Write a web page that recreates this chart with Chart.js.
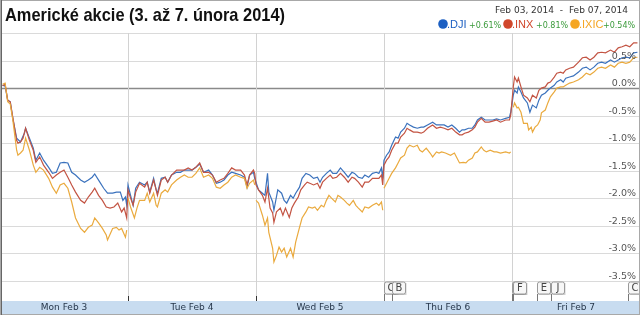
<!DOCTYPE html>
<html>
<head>
<meta charset="utf-8">
<script src="https://cdn.jsdelivr.net/npm/chart.js@4"></script>
<style>
  html, body { margin: 0; padding: 0; background: #fff; }
  canvas { display: block; }
</style>
</head>
<body>
<canvas id="chart" width="640" height="315"></canvas>
<script>
// x = trading day position (0 = Mon open, 5 = Fri close), y = change in %
const dayLabels = ['Mon Feb 3', 'Tue Feb 4', 'Wed Feb 5', 'Thu Feb 6', 'Fri Feb 7'];
const yTicks = [1.0, 0.5, 0, -0.5, -1.0, -1.5, -2.0, -2.5, -3.0, -3.5];
const seriesNames = ['.DJI', '.INX', '.IXIC'];
const seriesChange = ['+0.61%', '+0.81%', '+0.54%'];
const events = [[3.0, 'C'], [3.06, 'B'], [4.0, 'F'], [4.01, 'F'], [4.195, 'E'], [4.305, 'J'], [4.905, 'C']];

const djiData = [
  [.02,0.05],[.04,0.04],[.06,-0.22],[.08,-0.25],[.10,-0.55],[.13,-0.91],[.16,-0.98],[.19,-0.82],[.20,-0.73],
  [.23,-0.91],[.26,-1.09],[.28,-1.31],[.31,-1.18],[.34,-1.31],[.38,-1.44],[.41,-1.55],[.44,-1.53],[.47,-1.36],
  [.50,-1.35],[.53,-1.36],[.56,-1.53],[.59,-1.58],[.63,-1.67],[.66,-1.71],[.69,-1.67],[.72,-1.62],[.74,-1.56],
  [.78,-1.71],[.81,-1.82],[.84,-1.91],[.88,-1.91],[.91,-1.89],[.94,-1.89],[.96,-2.04],[.98,-1.98],[.99,-2.13],
  [1.00,-1.76],[1.02,-1.95],[1.04,-2.13],[1.06,-1.82],[1.09,-1.71],[1.13,-1.76],[1.15,-1.71],[1.17,-1.89],
  [1.20,-1.64],[1.22,-1.85],[1.23,-1.91],[1.26,-1.64],[1.29,-1.62],[1.31,-1.71],[1.34,-1.58],[1.38,-1.53],
  [1.41,-1.53],[1.44,-1.49],[1.47,-1.49],[1.50,-1.49],[1.53,-1.44],[1.56,-1.38],[1.59,-1.53],[1.63,-1.49],
  [1.66,-1.58],[1.69,-1.73],[1.72,-1.71],[1.75,-1.67],[1.78,-1.58],[1.81,-1.53],[1.84,-1.55],[1.88,-1.58],
  [1.91,-1.62],[1.93,-1.80],[1.95,-1.58],[1.98,-1.53],[1.99,-1.64],
  [2.00,-1.71],[2.02,-1.85],[2.05,-1.91],[2.07,-1.95],[2.09,-1.55],[2.10,-1.89],[2.13,-2.07],[2.14,-2.22],
  [2.17,-1.85],[2.20,-1.91],[2.22,-2.04],[2.24,-2.09],[2.27,-1.95],[2.29,-2.00],[2.31,-1.91],[2.34,-1.80],
  [2.36,-1.64],[2.39,-1.55],[2.42,-1.58],[2.45,-1.64],[2.48,-1.62],[2.50,-1.71],[2.52,-1.62],[2.55,-1.55],
  [2.58,-1.49],[2.60,-1.55],[2.63,-1.55],[2.66,-1.45],[2.69,-1.53],[2.72,-1.62],[2.75,-1.53],[2.77,-1.55],
  [2.80,-1.62],[2.83,-1.64],[2.85,-1.58],[2.88,-1.62],[2.91,-1.55],[2.94,-1.53],[2.96,-1.55],[2.98,-1.45],
  [2.99,-1.64],
  [3.00,-1.31],[3.02,-1.22],[3.04,-1.16],[3.06,-1.04],[3.09,-0.89],[3.11,-0.91],[3.13,-0.80],[3.16,-0.73],
  [3.18,-0.64],[3.20,-0.67],[3.23,-0.71],[3.26,-0.73],[3.29,-0.71],[3.31,-0.71],[3.34,-0.67],[3.38,-0.62],
  [3.41,-0.67],[3.44,-0.67],[3.47,-0.67],[3.50,-0.71],[3.53,-0.67],[3.56,-0.73],[3.59,-0.80],[3.61,-0.76],
  [3.63,-0.76],[3.66,-0.73],[3.69,-0.73],[3.71,-0.67],[3.73,-0.58],[3.76,-0.53],[3.79,-0.58],[3.82,-0.58],
  [3.85,-0.58],[3.88,-0.56],[3.91,-0.58],[3.95,-0.55],[3.98,-0.53],[3.99,-0.44],
  [4.01,-0.13],[4.02,-0.04],[4.04,-0.09],[4.05,0.02],[4.07,-0.07],[4.09,-0.18],[4.12,-0.27],[4.14,-0.44],
  [4.16,-0.31],[4.19,-0.36],[4.21,-0.22],[4.23,-0.13],[4.26,-0.09],[4.28,-0.04],[4.30,0.00],[4.33,0.05],
  [4.35,0.11],[4.38,0.15],[4.40,0.11],[4.42,0.18],[4.45,0.20],[4.48,0.22],[4.52,0.29],[4.55,0.36],
  [4.58,0.38],[4.61,0.33],[4.64,0.38],[4.67,0.45],[4.70,0.47],[4.73,0.45],[4.77,0.51],[4.80,0.47],
  [4.83,0.51],[4.86,0.55],[4.89,0.56],[4.92,0.55],[4.95,0.64],[4.98,0.65]
];

const inxData = [
  [.02,0.04],[.04,0.07],[.06,-0.22],[.08,-0.25],[.10,-0.53],[.13,-0.95],[.14,-1.00],[.16,-0.98],[.18,-0.91],
  [.20,-0.73],[.23,-0.95],[.26,-1.13],[.28,-1.35],[.31,-1.25],[.34,-1.40],[.38,-1.53],[.41,-1.64],[.44,-1.58],
  [.47,-1.53],[.50,-1.49],[.53,-1.62],[.56,-1.76],[.59,-1.89],[.63,-2.04],[.66,-2.09],[.69,-1.98],[.72,-1.89],
  [.74,-1.82],[.77,-1.95],[.80,-2.04],[.83,-2.16],[.86,-2.18],[.89,-2.16],[.92,-2.09],[.95,-2.25],[.97,-2.18],
  [.99,-2.36],
  [1.00,-1.85],[1.02,-2.00],[1.04,-2.13],[1.06,-1.89],[1.09,-1.73],[1.13,-1.80],[1.15,-1.71],[1.17,-1.91],
  [1.20,-1.67],[1.22,-1.85],[1.23,-1.95],[1.26,-1.67],[1.29,-1.62],[1.31,-1.71],[1.34,-1.58],[1.38,-1.49],
  [1.41,-1.49],[1.44,-1.49],[1.47,-1.45],[1.50,-1.49],[1.53,-1.44],[1.56,-1.36],[1.59,-1.53],[1.63,-1.53],
  [1.66,-1.58],[1.69,-1.71],[1.72,-1.67],[1.75,-1.64],[1.78,-1.55],[1.81,-1.45],[1.84,-1.49],[1.88,-1.49],
  [1.91,-1.58],[1.93,-1.76],[1.95,-1.58],[1.98,-1.49],[1.99,-1.55],
  [2.00,-1.76],[2.02,-1.85],[2.05,-1.95],[2.07,-2.07],[2.09,-1.82],[2.11,-2.18],[2.13,-2.27],[2.14,-2.44],
  [2.16,-2.25],[2.19,-2.18],[2.21,-2.31],[2.23,-2.18],[2.26,-2.35],[2.28,-2.18],[2.30,-2.09],[2.33,-1.98],
  [2.35,-1.85],[2.38,-1.76],[2.40,-1.71],[2.42,-1.73],[2.45,-1.76],[2.48,-1.73],[2.50,-1.82],[2.52,-1.71],
  [2.55,-1.64],[2.58,-1.58],[2.60,-1.64],[2.63,-1.62],[2.66,-1.55],[2.69,-1.62],[2.72,-1.71],[2.75,-1.62],
  [2.77,-1.64],[2.80,-1.71],[2.83,-1.80],[2.85,-1.71],[2.88,-1.71],[2.91,-1.64],[2.94,-1.64],[2.96,-1.64],
  [2.98,-1.58],[2.99,-1.76],
  [3.00,-1.40],[3.02,-1.31],[3.04,-1.25],[3.06,-1.13],[3.09,-1.00],[3.11,-1.00],[3.13,-0.89],[3.16,-0.82],
  [3.18,-0.73],[3.20,-0.76],[3.23,-0.80],[3.26,-0.80],[3.29,-0.82],[3.31,-0.80],[3.34,-0.73],[3.38,-0.67],
  [3.41,-0.73],[3.44,-0.71],[3.47,-0.73],[3.50,-0.76],[3.53,-0.73],[3.56,-0.80],[3.59,-0.85],[3.61,-0.85],
  [3.63,-0.82],[3.66,-0.80],[3.69,-0.76],[3.71,-0.71],[3.73,-0.62],[3.76,-0.55],[3.79,-0.62],[3.82,-0.62],
  [3.85,-0.60],[3.88,-0.58],[3.91,-0.62],[3.95,-0.58],[3.98,-0.58],[3.99,-0.49],
  [4.01,0.02],[4.02,0.20],[4.04,0.11],[4.05,0.18],[4.07,0.02],[4.09,-0.13],[4.12,-0.18],[4.14,-0.25],
  [4.16,-0.13],[4.19,-0.18],[4.21,-0.04],[4.23,0.00],[4.26,0.02],[4.28,0.09],[4.30,0.11],[4.33,0.20],
  [4.35,0.27],[4.38,0.29],[4.40,0.27],[4.42,0.33],[4.45,0.36],[4.48,0.38],[4.52,0.47],[4.55,0.55],
  [4.58,0.56],[4.61,0.51],[4.64,0.56],[4.67,0.64],[4.70,0.65],[4.73,0.64],[4.77,0.69],[4.80,0.65],
  [4.83,0.73],[4.86,0.75],[4.89,0.78],[4.92,0.75],[4.95,0.82],[4.98,0.82]
];

// Nasdaq line breaks between sessions
const ixicData = [
  [.02,0.07],[.04,0.09],[.06,-0.25],[.08,-0.29],[.10,-0.58],[.13,-1.13],[.14,-1.22],[.16,-1.18],[.18,-1.13],
  [.20,-0.91],[.23,-1.13],[.26,-1.40],[.28,-1.53],[.31,-1.44],[.34,-1.49],[.38,-1.64],[.41,-1.80],[.44,-1.91],
  [.47,-1.76],[.50,-1.73],[.53,-1.82],[.56,-2.07],[.59,-2.36],[.63,-2.55],[.66,-2.62],[.69,-2.53],[.72,-2.49],
  [.74,-2.36],[.77,-2.45],[.80,-2.55],[.83,-2.67],[.84,-2.76],[.88,-2.55],[.91,-2.53],[.93,-2.58],[.95,-2.55],
  [.98,-2.71],[.99,-2.58],[.995,null],
  [1.00,-2.00],[1.02,-2.16],[1.05,-2.36],[1.07,-2.18],[1.09,-2.04],[1.13,-2.04],[1.15,-1.91],[1.17,-2.07],
  [1.20,-1.91],[1.22,-2.13],[1.23,-2.16],[1.26,-1.91],[1.29,-1.85],[1.31,-1.89],[1.34,-1.76],[1.38,-1.67],
  [1.41,-1.62],[1.44,-1.58],[1.47,-1.62],[1.50,-1.62],[1.53,-1.55],[1.56,-1.45],[1.59,-1.62],[1.63,-1.58],
  [1.66,-1.64],[1.69,-1.80],[1.72,-1.82],[1.75,-1.76],[1.78,-1.71],[1.81,-1.62],[1.84,-1.58],[1.88,-1.62],
  [1.91,-1.64],[1.93,-1.82],[1.95,-1.73],[1.98,-1.67],[1.99,-1.76],[1.995,null],
  [2.00,-2.04],[2.02,-2.09],[2.05,-2.31],[2.07,-2.49],[2.09,-2.36],[2.10,-2.62],[2.13,-2.91],[2.14,-3.16],
  [2.16,-3.04],[2.18,-2.89],[2.20,-2.98],[2.22,-2.91],[2.24,-3.07],[2.27,-2.91],[2.29,-3.07],[2.31,-2.80],
  [2.34,-2.53],[2.36,-2.36],[2.39,-2.25],[2.41,-2.16],[2.44,-2.18],[2.46,-2.16],[2.48,-2.22],[2.51,-2.13],
  [2.53,-2.16],[2.55,-2.04],[2.57,-1.95],[2.59,-2.00],[2.62,-2.07],[2.64,-1.95],[2.66,-1.98],[2.69,-2.04],
  [2.71,-2.09],[2.73,-2.13],[2.76,-2.04],[2.78,-2.13],[2.80,-2.18],[2.83,-2.25],[2.85,-2.16],[2.88,-2.18],
  [2.91,-2.13],[2.94,-2.09],[2.96,-2.13],[2.98,-2.07],[2.99,-2.22],[2.995,null],
  [3.00,-1.82],[3.02,-1.73],[3.04,-1.64],[3.06,-1.55],[3.09,-1.45],[3.11,-1.36],[3.13,-1.27],[3.16,-1.22],
  [3.18,-1.09],[3.20,-1.04],[3.23,-1.07],[3.26,-1.04],[3.28,-1.13],[3.30,-1.16],[3.33,-1.09],[3.36,-1.18],
  [3.38,-1.25],[3.41,-1.16],[3.43,-1.18],[3.45,-1.16],[3.48,-1.18],[3.52,-1.22],[3.55,-1.18],[3.57,-1.27],
  [3.59,-1.36],[3.62,-1.35],[3.64,-1.36],[3.66,-1.31],[3.69,-1.27],[3.71,-1.18],[3.73,-1.16],[3.76,-1.07],
  [3.78,-1.13],[3.80,-1.16],[3.83,-1.13],[3.86,-1.16],[3.88,-1.16],[3.91,-1.18],[3.95,-1.16],[3.98,-1.18],
  [3.99,-1.16],[3.995,null],
  [4.01,-0.35],[4.02,-0.27],[4.04,-0.36],[4.05,-0.35],[4.07,-0.44],[4.09,-0.64],[4.12,-0.64],[4.13,-0.76],
  [4.15,-0.71],[4.16,-0.80],[4.18,-0.71],[4.20,-0.67],[4.22,-0.58],[4.23,-0.45],[4.26,-0.40],[4.28,-0.27],
  [4.30,-0.16],[4.33,-0.07],[4.35,0.00],[4.38,0.02],[4.40,0.02],[4.42,0.05],[4.45,0.09],[4.48,0.11],
  [4.52,0.15],[4.55,0.20],[4.58,0.27],[4.61,0.24],[4.64,0.29],[4.67,0.36],[4.70,0.38],[4.73,0.36],
  [4.77,0.42],[4.80,0.38],[4.83,0.45],[4.86,0.47],[4.89,0.45],[4.92,0.47],[4.95,0.55],[4.98,0.56]
];

const lineColors = ['#3b72bd', '#c35443', '#eaaa3e'];
const dotColors = ['#1c5fc2', '#d0472b', '#f5a623'];

function toPoints(rows) {
    return rows.map(r => ({ x: r[0], y: r[1] }));
}

// grid, axis band, labels, flags, title and legend
const decorations = {
    id: 'decorations',
    beforeDatasetsDraw(chart) {
        const { ctx, chartArea: a, scales: { x, y } } = chart;
        ctx.save();
        yTicks.forEach(v => {
            const py = Math.round(y.getPixelForValue(v)) + 0.5;
            ctx.beginPath();
            ctx.strokeStyle = v === 0 ? '#8a8a8a' : '#dadada';
            ctx.lineWidth = v === 0 ? 1.5 : 1;
            ctx.moveTo(a.left, py);
            ctx.lineTo(a.right, py);
            ctx.stroke();
        });
        for (let d = 1; d < dayLabels.length; d++) {
            const px = Math.round(x.getPixelForValue(d)) + 0.5;
            ctx.beginPath();
            ctx.strokeStyle = '#d2d2d2';
            ctx.lineWidth = 1;
            ctx.moveTo(px, a.top);
            ctx.lineTo(px, a.bottom);
            ctx.stroke();
        }
        ctx.restore();
    },
    afterDatasetsDraw(chart) {
        const { ctx, chartArea: a, scales: { x, y } } = chart;
        const W = chart.width, H = chart.height;
        ctx.save();

        // y labels, right side, sitting on the gridlines
        ctx.font = '9.5px "DejaVu Sans"';
        ctx.fillStyle = '#555';
        ctx.textAlign = 'right';
        ctx.textBaseline = 'alphabetic';
        yTicks.forEach(v => {
            if (v >= 1) return;
            const py = y.getPixelForValue(v);
            ctx.fillText(v.toFixed(1) + '%', a.right - 4, py - 2);
        });

        // x axis band
        ctx.fillStyle = '#c8dcf0';
        ctx.fillRect(0, a.bottom + 1, W, H - a.bottom - 2);
        ctx.fillStyle = '#26364a';
        ctx.font = '9px "DejaVu Sans"';
        ctx.textAlign = 'center';
        ctx.textBaseline = 'middle';
        dayLabels.forEach((lab, i) => {
            ctx.fillText(lab, x.getPixelForValue(i + 0.5), a.bottom + 8);
        });
        ctx.strokeStyle = '#333';
        ctx.lineWidth = 1;
        for (let d = 1; d < dayLabels.length; d++) {
            const px = Math.round(x.getPixelForValue(d)) + 0.5;
            ctx.beginPath();
            ctx.moveTo(px, a.bottom - 4);
            ctx.lineTo(px, a.bottom + 1);
            ctx.stroke();
        }

        // news flags
        ctx.font = '10px "DejaVu Sans"';
        events.forEach(([t, letter]) => {
            const px = Math.round(x.getPixelForValue(t)) + 0.5;
            const top = a.bottom - 18, h = 12, w = 13;
            ctx.strokeStyle = '#777';
            ctx.beginPath();
            ctx.moveTo(px, top + h);
            ctx.lineTo(px, a.bottom + 1);
            ctx.stroke();
            ctx.fillStyle = 'rgba(0,0,0,0.18)';
            ctx.fillRect(px + 1, top + 1, w, h);
            ctx.fillStyle = '#f7f7f7';
            ctx.strokeStyle = '#9a9a9a';
            ctx.beginPath();
            ctx.roundRect(px, top, w, h, 2);
            ctx.fill();
            ctx.stroke();
            ctx.fillStyle = '#444';
            ctx.textAlign = 'center';
            ctx.fillText(letter, px + w / 2, top + h / 2 + 0.5);
        });

        // title
        ctx.fillStyle = '#111';
        ctx.textAlign = 'left';
        ctx.textBaseline = 'alphabetic';
        ctx.font = 'bold 19px "Liberation Sans", Arial';
        const title = 'Americké akcie (3. až 7. února 2014)';
        const tw = ctx.measureText(title).width;
        ctx.save();
        ctx.translate(5, 21);
        ctx.scale(280 / tw, 1);
        ctx.fillText(title, 0, 0);
        ctx.restore();

        // date range
        ctx.font = '9px "DejaVu Sans"';
        ctx.fillStyle = '#333';
        const range = 'Feb 03, 2014  -  Feb 07, 2014';
        const rw = ctx.measureText(range).width;
        ctx.save();
        ctx.translate(495, 13);
        ctx.scale(133 / rw, 1);
        ctx.fillText(range, 0, 0);
        ctx.restore();

        // legend
        const dotX = [443, 508, 575], nameX = [447, 512, 579], pctX = [469, 536, 603];
        seriesNames.forEach((name, i) => {
            ctx.fillStyle = dotColors[i];
            ctx.beginPath();
            ctx.arc(dotX[i], 24, 4.8, 0, Math.PI * 2);
            ctx.fill();
            ctx.font = '11px "Liberation Sans", Arial';
            ctx.fillText(name, nameX[i], 28);
            ctx.fillStyle = '#3a9a3a';
            ctx.font = '8px "DejaVu Sans"';
            ctx.fillText(seriesChange[i], pctX[i], 28);
        });

        // frame
        ctx.strokeStyle = '#a8a8a8';
        ctx.lineWidth = 1;
        ctx.strokeRect(0.5, 0.5, W - 1, H - 1);
        ctx.strokeStyle = '#666';
        ctx.beginPath();
        ctx.moveTo(1.5, 0);
        ctx.lineTo(1.5, H);
        ctx.stroke();
        ctx.restore();
    }
};

const datasets = [ixicData, inxData, djiData].map((rows, k) => {
    const i = 2 - k;
    return {
        label: seriesNames[i],
        data: toPoints(rows),
        borderColor: lineColors[i],
        borderWidth: 1.2,
        pointRadius: 0,
        tension: 0,
        spanGaps: false
    };
});

new Chart(document.getElementById('chart'), {
    type: 'line',
    data: { datasets },
    options: {
        responsive: false,
        animation: false,
        devicePixelRatio: 1,
        layout: { padding: { top: 33, bottom: 15, left: 0, right: 0 } },
        scales: {
            x: { type: 'linear', min: 0, max: 5, display: false },
            y: { min: -3.85, max: 1.0, display: false }
        },
        plugins: {
            legend: { display: false },
            tooltip: { enabled: false }
        }
    },
    plugins: [decorations]
});
</script>
</body>
</html>
